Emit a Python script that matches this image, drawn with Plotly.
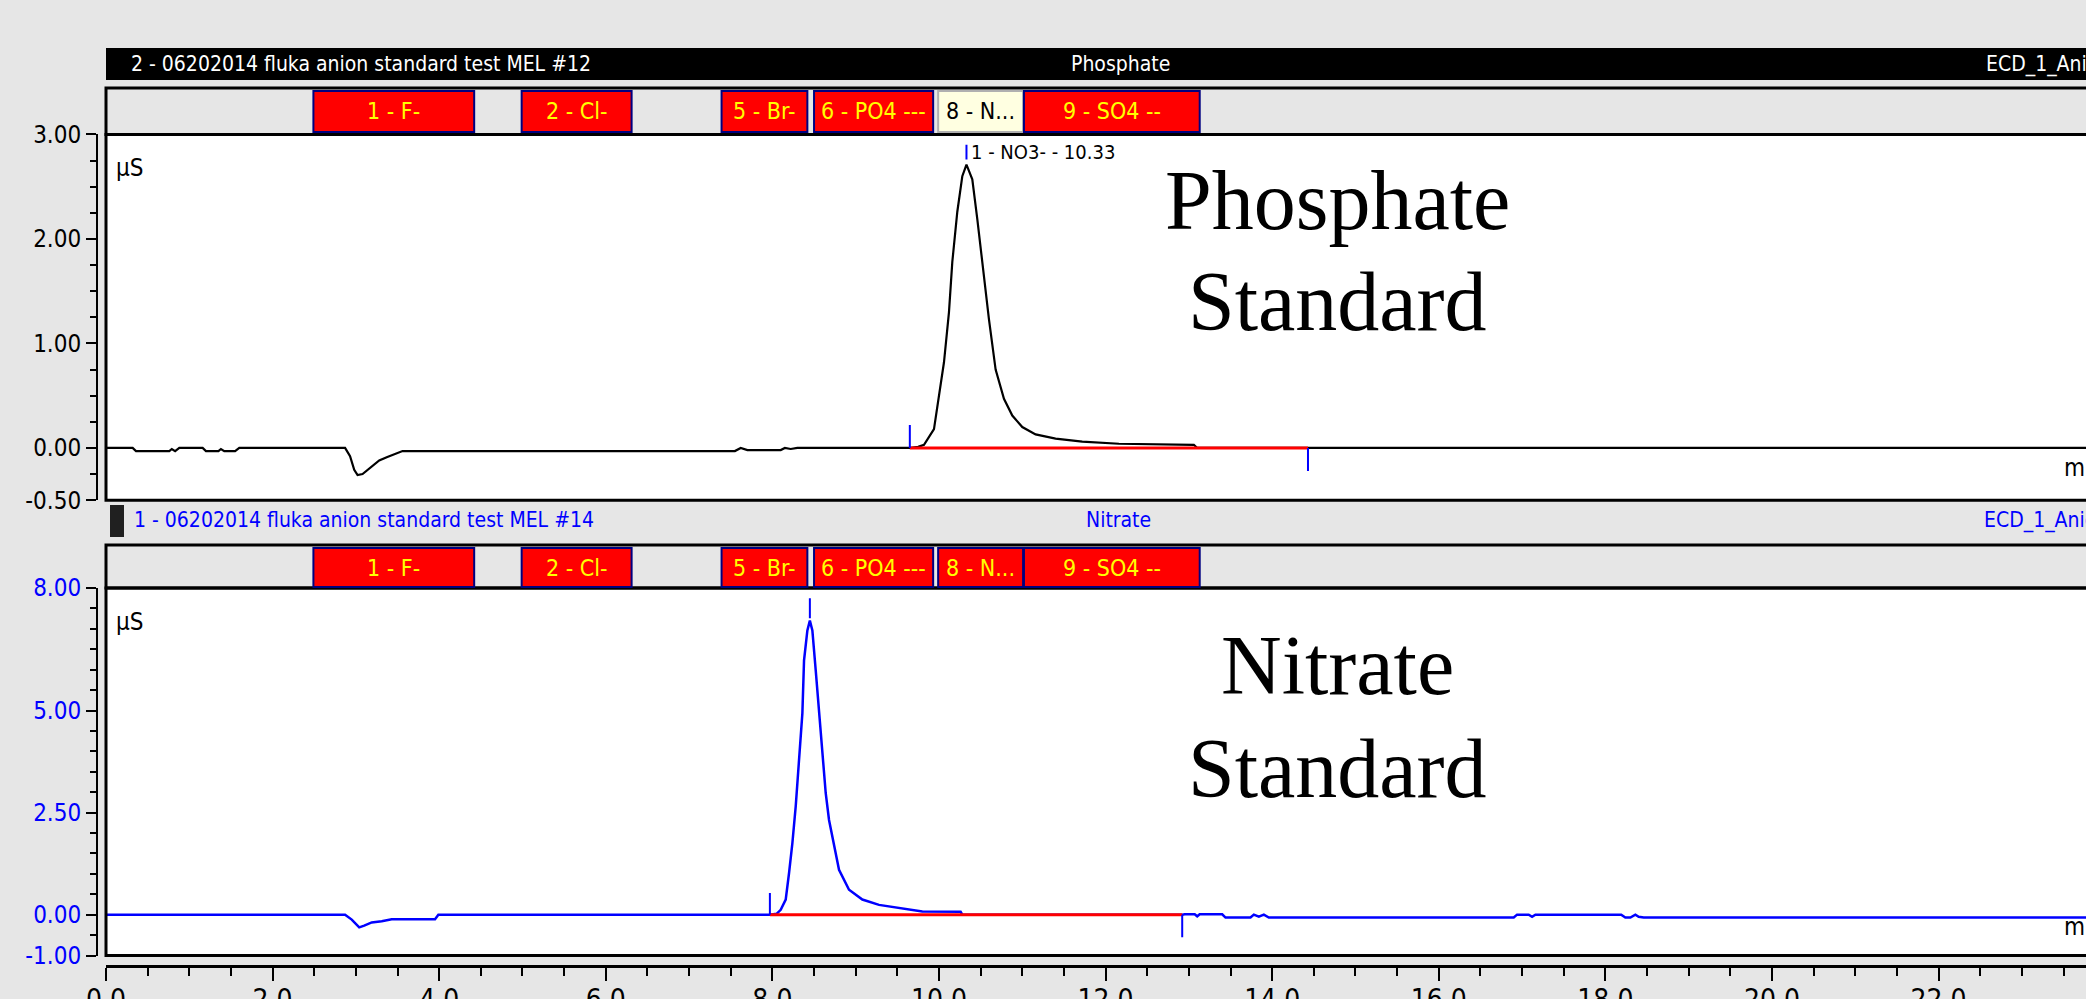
import numpy as np
import plotly.graph_objects as go

# ---------------- data (retention time in min, conductivity in µS) ----------------
top_time = [0.00, 0.32, 0.36, 0.76, 0.79, 0.83, 0.88, 1.16, 1.20, 1.35, 1.38, 1.42, 1.55, 1.60,
            2.87, 2.93, 2.98, 3.02, 3.08, 3.17, 3.28, 3.37, 3.50, 3.56, 7.55, 7.62, 7.70, 8.10,
            8.15, 8.22, 8.30, 9.66, 9.75, 9.82, 9.94, 10.00, 10.06, 10.12, 10.16, 10.22, 10.28,
            10.33, 10.40, 10.46, 10.52, 10.60, 10.68, 10.78, 10.88, 11.00, 11.16, 11.40, 11.72,
            12.16, 13.06, 13.10, 23.77]
top_signal = [0.00, 0.00, -0.03, -0.03, -0.01, -0.03, 0.00, 0.00, -0.03, -0.03, -0.01, -0.03, -0.03, 0.00,
              0.00, -0.08, -0.21, -0.26, -0.25, -0.19, -0.12, -0.09, -0.05, -0.03, -0.03, 0.00, -0.02, -0.02,
              0.00, -0.01, 0.00, 0.00, 0.01, 0.03, 0.18, 0.50, 0.82, 1.30, 1.78, 2.26, 2.60,
              2.71, 2.57, 2.19, 1.78, 1.23, 0.75, 0.47, 0.31, 0.20, 0.13, 0.09, 0.06,
              0.04, 0.03, 0.00, 0.00]

bottom_time = [0.00, 2.87, 2.95, 3.04, 3.10, 3.19, 3.31, 3.43, 3.95, 3.99, 7.97, 8.05, 8.10, 8.16,
               8.20, 8.24, 8.28, 8.32, 8.36, 8.38, 8.42, 8.45, 8.48, 8.52, 8.56, 8.60, 8.64, 8.68,
               8.74, 8.80, 8.92, 9.08, 9.28, 9.52, 9.80, 10.26, 10.28, 12.92, 12.95, 13.07, 13.10,
               13.13, 13.40, 13.44, 13.74, 13.78, 13.84, 13.90, 13.96, 16.90, 16.94, 17.08, 17.12,
               17.16, 18.19, 18.24, 18.30, 18.36, 18.40, 18.46, 18.51, 23.77]
bottom_signal = [0.00, 0.00, -0.12, -0.31, -0.27, -0.19, -0.16, -0.11, -0.11, 0.00, 0.00, 0.02, 0.12, 0.37,
                 1.02, 1.75, 2.65, 3.79, 4.93, 6.23, 6.96, 7.20, 6.96, 5.99, 4.93, 4.03, 2.98, 2.32,
                 1.67, 1.10, 0.61, 0.37, 0.24, 0.16, 0.08, 0.07, 0.00, 0.00, 0.01, 0.01, -0.04,
                 0.01, 0.01, -0.07, -0.07, 0.00, -0.05, 0.00, -0.07, -0.07, 0.00, 0.00, -0.05,
                 0.00, 0.00, -0.07, -0.07, 0.00, -0.05, -0.07, -0.07, -0.07]

# integration baselines (start, end)
top_baseline = [9.65, 14.43]
bottom_baseline = [7.97, 12.92]

# peak delimiter / apex tick marks: time, low value, high value
top_marker_t = [9.65, 14.43, 10.33]
top_marker_lo = [0.00, -0.22, 2.76]
top_marker_hi = [0.22, 0.00, 2.90]
bottom_marker_t = [7.97, 12.92, 8.45]
bottom_marker_lo = [0.00, -0.55, 7.26]
bottom_marker_hi = [0.53, 0.00, 7.75]

# peak windows in label band
window_names = ["1 - F-", "2 - Cl-", "5 - Br-", "6 - PO4 ---", "8 - N...", "9 - SO4 --"]
window_start = [2.49, 4.99, 7.39, 8.50, 9.99, 11.02]
window_end = [4.42, 6.31, 8.42, 9.93, 11.01, 13.13]
top_highlight = "8 - N..."

top_ticks = [3.0, 2.0, 1.0, 0.0, -0.5]
top_ticktext = ["3.00", "2.00", "1.00", "0.00", "-0.50"]
bottom_ticks = [8.0, 5.0, 2.5, 0.0, -1.0]
bottom_ticktext = ["8.00", "5.00", "2.50", "0.00", "-1.00"]
x_ticks = list(range(0, 23, 2))
x_ticktext = ["%.1f" % v for v in x_ticks]

top_peak_label = "1 - NO3- - 10.33"
top_peak_time = 10.33

# ---------------- layout helpers ----------------
W, H = 2086, 999
def fx(x):
    return x / W
def fy(y):
    return 1 - y / H

NARROW = "DejaVu Sans Condensed, Liberation Sans Narrow, Arial Narrow, sans-serif"
SERIF = "Liberation Serif, Times New Roman, serif"
BLUE = "#0000ff"
RED = "#ff0000"
GRAY = "#e6e6e6"

XL = 106
XMAX = 23.77
top_dom = [fy(500.2), fy(134.4)]
bot_dom = [fy(955.5), fy(588)]

fig = go.Figure()

def segs(ts, lo, hi):
    xs, ys = [], []
    for t, a, b in zip(ts, lo, hi):
        xs += [t, t, None]
        ys += [a, b, None]
    return xs, ys

# top chromatogram
fig.add_trace(go.Scatter(x=top_time, y=top_signal, mode="lines", line=dict(color="black", width=2.2),
                         xaxis="x", yaxis="y", hoverinfo="skip", showlegend=False))
fig.add_trace(go.Scatter(x=top_baseline, y=[0, 0], mode="lines", line=dict(color=RED, width=3),
                         xaxis="x", yaxis="y", hoverinfo="skip", showlegend=False))
mx, my = segs(top_marker_t, top_marker_lo, top_marker_hi)
fig.add_trace(go.Scatter(x=mx, y=my, mode="lines", line=dict(color=BLUE, width=2),
                         xaxis="x", yaxis="y", hoverinfo="skip", showlegend=False))

# bottom chromatogram
fig.add_trace(go.Scatter(x=bottom_time, y=bottom_signal, mode="lines", line=dict(color=BLUE, width=2.5),
                         xaxis="x2", yaxis="y2", hoverinfo="skip", showlegend=False))
fig.add_trace(go.Scatter(x=bottom_baseline, y=[0, 0], mode="lines", line=dict(color=RED, width=3),
                         xaxis="x2", yaxis="y2", hoverinfo="skip", showlegend=False))
mx, my = segs(bottom_marker_t, bottom_marker_lo, bottom_marker_hi)
fig.add_trace(go.Scatter(x=mx, y=my, mode="lines", line=dict(color=BLUE, width=2),
                         xaxis="x2", yaxis="y2", hoverinfo="skip", showlegend=False))

shapes = []
# top header black bar
shapes.append(dict(type="rect", xref="paper", yref="paper", x0=fx(XL), x1=1.01, y0=fy(80), y1=fy(48),
                   fillcolor="black", line=dict(width=0), layer="below"))
# label bands
for (ya, yb) in [(88, 134.4), (545, 588)]:
    shapes.append(dict(type="rect", xref="paper", yref="paper", x0=fx(XL), x1=1.01, y0=fy(yb), y1=fy(ya),
                       fillcolor=GRAY, line=dict(color="black", width=3), layer="above"))
# plot borders
for (ya, yb) in [(134.4, 500.2), (588, 955.5)]:
    shapes.append(dict(type="rect", xref="paper", yref="paper", x0=fx(XL), x1=1.01, y0=fy(yb), y1=fy(ya),
                       fillcolor="rgba(0,0,0,0)", line=dict(color="black", width=3), layer="above"))
# little marker square in second header
shapes.append(dict(type="rect", xref="paper", yref="paper", x0=fx(110), x1=fx(124), y0=fy(537), y1=fy(505),
                   fillcolor="#202020", line=dict(width=0), layer="above"))

annotations = []
# peak window boxes
for xref, (ya, yb), hl in [("x", (91, 132), True), ("x2", (548, 587), False)]:
    for name, s, e in zip(window_names, window_start, window_end):
        is_hl = hl and name == top_highlight
        shapes.append(dict(type="rect", xref=xref, yref="paper", x0=s, x1=e, y0=fy(yb), y1=fy(ya),
                           fillcolor="#ffffe1" if is_hl else RED,
                           line=dict(color="#b0b0b0" if is_hl else "#000080", width=2), layer="above"))
        annotations.append(dict(xref=xref, yref="paper", x=(s + e) / 2, y=fy((ya + yb) / 2),
                                text=name, showarrow=False, xanchor="center", yanchor="middle",
                                font=dict(family=NARROW, size=23, color="black" if is_hl else "#ffff00")))

HF = 21
# header texts
annotations += [
    dict(xref="paper", yref="paper", x=fx(129), y=fy(64), text="2 - 06202014 fluka anion standard test MEL #12",
         showarrow=False, xanchor="left", yanchor="middle", font=dict(family=NARROW, size=HF, color="white")),
    dict(xref="paper", yref="paper", x=fx(1120), y=fy(64), text="Phosphate",
         showarrow=False, xanchor="center", yanchor="middle", font=dict(family=NARROW, size=HF, color="white")),
    dict(xref="paper", yref="paper", x=fx(1984), y=fy(64), text="ECD_1_Anions",
         showarrow=False, xanchor="left", yanchor="middle", font=dict(family=NARROW, size=HF, color="white")),
    dict(xref="paper", yref="paper", x=fx(132), y=fy(520), text="1 - 06202014 fluka anion standard test MEL #14",
         showarrow=False, xanchor="left", yanchor="middle", font=dict(family=NARROW, size=HF, color=BLUE)),
    dict(xref="paper", yref="paper", x=fx(1118), y=fy(520), text="Nitrate",
         showarrow=False, xanchor="center", yanchor="middle", font=dict(family=NARROW, size=HF, color=BLUE)),
    dict(xref="paper", yref="paper", x=fx(1982), y=fy(520), text="ECD_1_Anions",
         showarrow=False, xanchor="left", yanchor="middle", font=dict(family=NARROW, size=HF, color=BLUE)),
    # unit labels
    dict(xref="paper", yref="paper", x=fx(114), y=fy(168), text="µS",
         showarrow=False, xanchor="left", yanchor="middle", font=dict(family=NARROW, size=24, color="black")),
    dict(xref="paper", yref="paper", x=fx(114), y=fy(622), text="µS",
         showarrow=False, xanchor="left", yanchor="middle", font=dict(family=NARROW, size=24, color="black")),
    dict(xref="paper", yref="paper", x=fx(2062), y=fy(468), text="min",
         showarrow=False, xanchor="left", yanchor="middle", font=dict(family=NARROW, size=24, color="black")),
    dict(xref="paper", yref="paper", x=fx(2062), y=fy(927), text="min",
         showarrow=False, xanchor="left", yanchor="middle", font=dict(family=NARROW, size=24, color="black")),
    # peak label
    dict(xref="x", yref="y", x=top_peak_time, y=2.83, xshift=3, text=top_peak_label,
         showarrow=False, xanchor="left", yanchor="middle", font=dict(family=NARROW, size=20, color="black")),
    # big overlay labels
    dict(xref="paper", yref="paper", x=fx(1337), y=fy(200), text="Phosphate",
         showarrow=False, xanchor="center", yanchor="middle", font=dict(family=SERIF, size=84, color="black")),
    dict(xref="paper", yref="paper", x=fx(1337), y=fy(301), text="Standard",
         showarrow=False, xanchor="center", yanchor="middle", font=dict(family=SERIF, size=84, color="black")),
    dict(xref="paper", yref="paper", x=fx(1337), y=fy(665), text="Nitrate",
         showarrow=False, xanchor="center", yanchor="middle", font=dict(family=SERIF, size=84, color="black")),
    dict(xref="paper", yref="paper", x=fx(1337), y=fy(768), text="Standard",
         showarrow=False, xanchor="center", yanchor="middle", font=dict(family=SERIF, size=84, color="black")),
]

tickfont = dict(family=NARROW, size=24, color="black")
yaxis_common = dict(anchor="free", position=fx(97), showline=True, linecolor="black", linewidth=2,
                    ticks="outside", ticklen=10, tickwidth=2, tickcolor="black", showgrid=False,
                    zeroline=False, tickmode="array", fixedrange=True, automargin=False)

fig.update_layout(
    width=W, height=H, autosize=False,
    margin=dict(l=0, r=0, t=0, b=0, pad=0),
    paper_bgcolor=GRAY, plot_bgcolor="white",
    showlegend=False,
    xaxis=dict(domain=[fx(XL), 1], range=[0, XMAX], anchor="y", visible=False, fixedrange=True,
               automargin=False),
    yaxis=dict(domain=top_dom, range=[-0.5, 3.0], tickvals=top_ticks, ticktext=top_ticktext,
               tickfont=tickfont,
               minor=dict(tickmode="array", tickvals=list(np.arange(-0.5, 3.01, 0.25)), ticks="outside",
                          ticklen=6, tickwidth=2, tickcolor="black"),
               **yaxis_common),
    xaxis2=dict(domain=[fx(XL), 1], range=[0, XMAX], matches="x", anchor="free", position=fy(966),
                showline=True, linecolor="black", linewidth=3, ticks="outside", ticklen=13, tickwidth=2,
                tickcolor="black", tickmode="array", tickvals=x_ticks, ticktext=x_ticktext,
                tickfont=dict(family=NARROW, size=28, color="black"), showgrid=False, zeroline=False,
                ticklabelstandoff=-6,
                minor=dict(tickmode="array", tickvals=list(np.arange(0, 23.8, 0.5)), ticks="outside",
                           ticklen=8, tickwidth=2, tickcolor="black"),
                fixedrange=True, automargin=False),
    yaxis2=dict(domain=bot_dom, range=[-1.0, 8.0], tickvals=bottom_ticks, ticktext=bottom_ticktext,
                tickfont=dict(family=NARROW, size=24, color=BLUE),
                minor=dict(tickmode="array", tickvals=list(np.arange(-1.0, 8.01, 0.5)), ticks="outside",
                           ticklen=6, tickwidth=2, tickcolor="black"),
                **yaxis_common),
    shapes=shapes,
    annotations=annotations,
)

fig.write_html("out.html", include_plotlyjs=True, config={"displayModeBar": False},
               post_script="document.body.style.margin='0';document.body.style.overflow='hidden';")
